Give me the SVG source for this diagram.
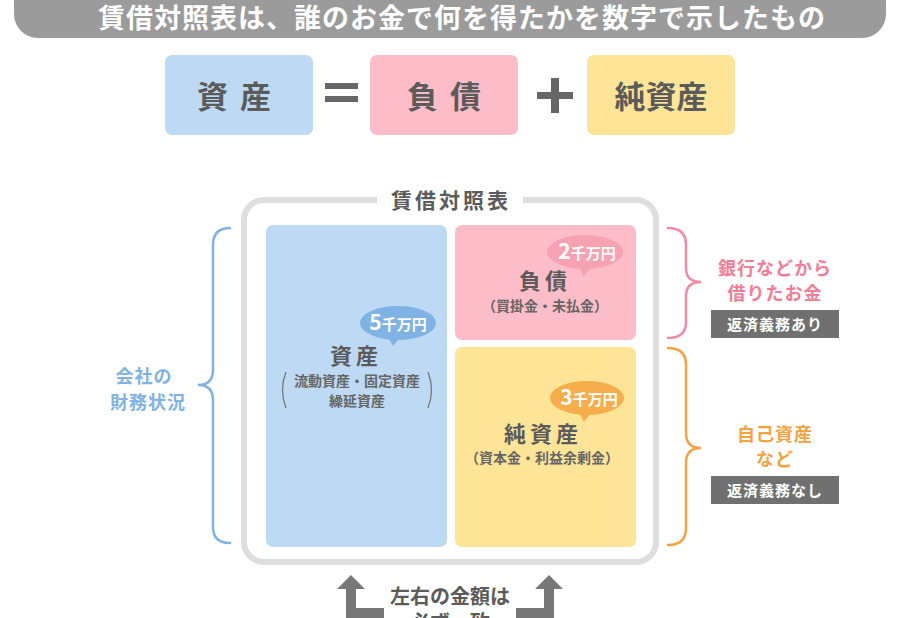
<svg xmlns="http://www.w3.org/2000/svg" width="900" height="618" viewBox="0 0 900 618">
<style>
text{font-family:"Noto Sans CJK JP","Noto Sans",sans-serif;font-weight:bold;text-anchor:middle}
.dk{fill:#5b5b5b}
.sub{fill:#666;font-size:14px}
.wt{fill:#fff}
.br{fill:none;stroke-width:2.5;stroke-linecap:round}
.tag{fill:#707070}
.note{font-size:18px;letter-spacing:1px}
</style>
<rect width="900" height="618" fill="#fff"/>
<g id="banner">
<rect x="14" y="-30" width="872" height="68" rx="24" fill="#9b9b9b"/>
<text x="462" y="28" class="wt" font-size="27" letter-spacing="1">賃借対照表は、誰のお金で何を得たかを数字で示したもの</text>
</g>
<g id="eq-assets">
<rect x="165" y="55" width="148" height="80" rx="7" fill="#bdd9f3"/>
<text x="240" y="108" class="dk" font-size="31" letter-spacing="12">資産</text>
</g>
<g id="eq-equals" fill="#666">
<rect x="325" y="83" width="33" height="6"/>
<rect x="325" y="96" width="33" height="6"/>
</g>
<g id="eq-liab">
<rect x="370" y="55" width="148" height="80" rx="7" fill="#fdbdc8"/>
<text x="450" y="108" class="dk" font-size="31" letter-spacing="12">負債</text>
</g>
<g id="eq-plus" fill="#666">
<rect x="537" y="92" width="36" height="7"/>
<rect x="551" y="78" width="8" height="35"/>
</g>
<g id="eq-equity">
<rect x="587" y="55" width="148" height="80" rx="7" fill="#fde496"/>
<text x="661" y="108" class="dk" font-size="31">純資産</text>
</g>
<g id="frame">
<rect x="244" y="200" width="412" height="362" rx="20" fill="none" stroke="#dedede" stroke-width="6"/>
<rect x="377" y="190" width="146" height="20" fill="#fff"/>
<text x="451" y="208" class="dk" font-size="21" letter-spacing="3">賃借対照表</text>
</g>
<g id="assets">
<rect x="266" y="225" width="181" height="322" rx="7" fill="#bdd9f3"/>
<text x="356" y="364" class="dk" font-size="22" letter-spacing="4">資産</text>
<text x="357" y="386" class="sub" font-size="14.5">流動資産・固定資産</text>
<text x="357" y="406" class="sub" font-size="14.5">繰延資産</text>
<path d="M286,372 Q279,390 286,408 M428,372 Q435,390 428,408" fill="none" stroke="#777" stroke-width="1.3"/>
<ellipse cx="398" cy="323" rx="38" ry="17" fill="#7fb2e5"/>
<polygon points="387,335 402,335 393,346" fill="#7fb2e5"/>
<text x="398" y="330" class="wt" font-size="21">5<tspan font-size="15">千万円</tspan></text>
</g>
<g id="liabilities">
<rect x="455" y="225" width="181" height="115" rx="7" fill="#fdbdc8"/>
<text x="545" y="289" class="dk" font-size="22" letter-spacing="4">負債</text>
<text x="545" y="311" class="sub">（買掛金・未払金）</text>
<ellipse cx="585" cy="252" rx="38" ry="17" fill="#f7a2b3"/>
<polygon points="578,264 593,264 584,277" fill="#f7a2b3"/>
<text x="587" y="259" class="wt" font-size="21">2<tspan font-size="15">千万円</tspan></text>
</g>
<g id="equity">
<rect x="455" y="347" width="181" height="200" rx="7" fill="#fde496"/>
<text x="543" y="442" class="dk" font-size="22" letter-spacing="4">純資産</text>
<text x="542" y="463" class="sub">（資本金・利益余剰金）</text>
<ellipse cx="587" cy="398" rx="37" ry="17" fill="#f6ae4d"/>
<polygon points="578,410 593,410 584,422" fill="#f6ae4d"/>
<text x="589" y="405" class="wt" font-size="21">3<tspan font-size="15">千万円</tspan></text>
</g>
<g id="left-note">
<path class="br" stroke="#7fb2e5" d="M230,228 Q213,228 213,245 L213,370 Q213,385 198,385 Q213,385 213,400 L213,527 Q213,543 230,543"/>
<text x="144" y="383" class="note" fill="#7fb2e5">会社の</text>
<text x="148" y="409" class="note" fill="#7fb2e5">財務状況</text>
</g>
<g id="liab-note">
<path class="br" stroke="#f48ca1" d="M668,228 Q686,228 686,245 L686,268 Q686,282 701,282 Q686,282 686,296 L686,322 Q686,338 668,338"/>
<text x="775" y="275" class="note" fill="#f27d95">銀行などから</text>
<text x="775" y="300" class="note" fill="#f27d95">借りたお金</text>
<rect class="tag" x="711" y="310" width="128" height="28"/>
<text x="775" y="330" class="wt" font-size="15" letter-spacing="1">返済義務あり</text>
</g>
<g id="equity-note">
<path class="br" stroke="#f4a340" d="M668,348 Q686,348 686,365 L686,433 Q686,448 701,448 Q686,448 686,463 L686,528 Q686,545 668,545"/>
<text x="775" y="441" class="note" fill="#f4a340">自己資産</text>
<text x="775" y="466" class="note" fill="#f4a340">など</text>
<rect class="tag" x="711" y="476" width="128" height="28"/>
<text x="775" y="496" class="wt" font-size="15" letter-spacing="1">返済義務なし</text>
</g>
<g id="connectors" fill="#777">
<path d="M351,575 L365,589 L356,589 L356,608 L384,608 L384,620 L346,620 L346,589 L337,589 Z"/>
<path d="M549,575 L563,589 L554,589 L554,620 L516,620 L516,608 L544,608 L544,589 L535,589 Z"/>
</g>
<g id="bottom-note">
<text x="450" y="604" class="dk" font-size="20">左右の金額は</text>
<text x="450" y="630" class="dk" font-size="20">必ず一致</text>
</g>
</svg>
